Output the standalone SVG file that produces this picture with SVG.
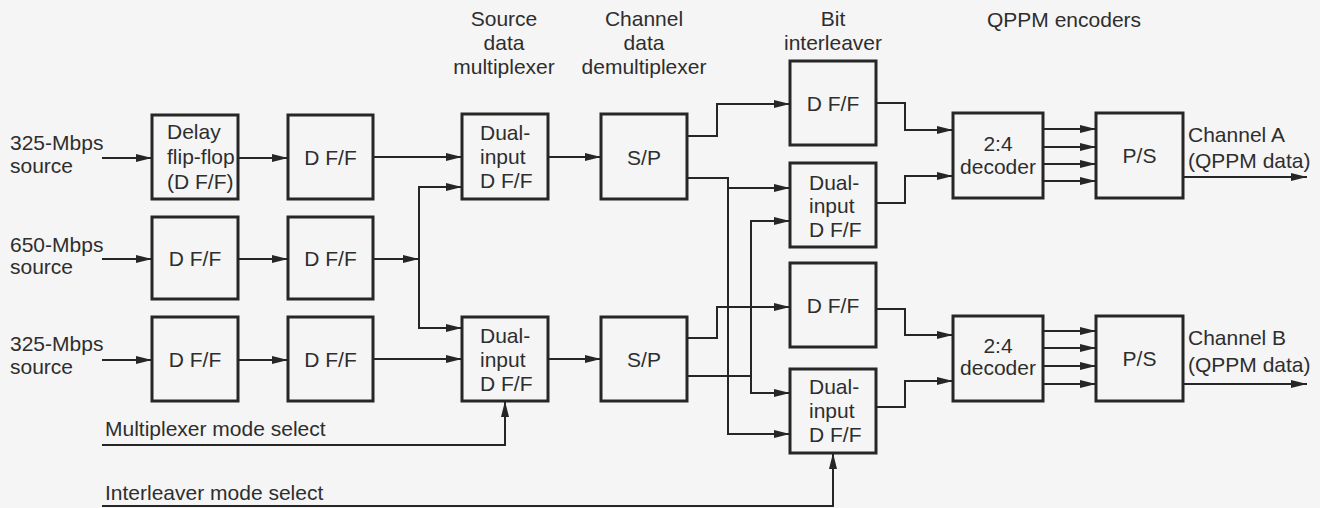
<svg xmlns="http://www.w3.org/2000/svg" width="1320" height="508" viewBox="0 0 1320 508">
<defs>
<marker id="ah" viewBox="0 0 16 8" refX="16" refY="4" markerWidth="16" markerHeight="8" markerUnits="userSpaceOnUse" orient="auto">
<path d="M0,0 L16,4 L0,8 z" fill="#262626"/>
</marker>
<style>
text{font-family:"Liberation Sans",Arial,sans-serif;font-size:21px;fill:#2e2e2e}
.c{text-anchor:middle}
rect{fill:none;stroke:#262626;stroke-width:3}
.w path{fill:none;stroke:#262626;stroke-width:2}
.a{marker-end:url(#ah)}
</style>
</defs>
<rect x="0" y="0" width="1320" height="508" style="fill:#f5f5f5;stroke:none"/>
<g id="labels">
<text x="10" y="150">325-Mbps</text><text x="10" y="173">source</text>
<text x="10" y="252">650-Mbps</text><text x="10" y="274">source</text>
<text x="10" y="351">325-Mbps</text><text x="10" y="374">source</text>
<text class="c" x="504" y="26">Source</text><text class="c" x="504" y="50">data</text><text class="c" x="504" y="74">multiplexer</text>
<text class="c" x="644" y="26">Channel</text><text class="c" x="644" y="50">data</text><text class="c" x="644" y="74">demultiplexer</text>
<text class="c" x="833" y="26">Bit</text><text class="c" x="833" y="50">interleaver</text>
<text x="987" y="27">QPPM encoders</text>
<text x="105" y="436">Multiplexer mode select</text>
<text x="105" y="500">Interleaver mode select</text>
<text x="1188" y="142">Channel A</text><text x="1188" y="168">(QPPM data)</text>
<text x="1188" y="345">Channel B</text><text x="1188" y="372">(QPPM data)</text>
</g>
<g id="delay"><rect x="152" y="115" width="86" height="84"/><text x="167" y="139">Delay</text><text x="167" y="164">flip-flop</text><text x="167" y="189">(D F/F)</text></g>
<g id="dff1b"><rect x="288" y="115" width="85" height="84"/><text class="c" x="330.5" y="165">D F/F</text></g>
<g id="dff2a"><rect x="152" y="217" width="86" height="82"/><text class="c" x="195" y="266">D F/F</text></g>
<g id="dff2b"><rect x="288" y="217" width="85" height="82"/><text class="c" x="330.5" y="266">D F/F</text></g>
<g id="dff3a"><rect x="152" y="317" width="86" height="84"/><text class="c" x="195" y="367">D F/F</text></g>
<g id="dff3b"><rect x="288" y="317" width="85" height="84"/><text class="c" x="330.5" y="367">D F/F</text></g>
<g id="mux1"><rect x="462" y="114" width="86" height="85"/><text x="480" y="140">Dual-</text><text x="480" y="164">input</text><text x="480" y="188">D F/F</text></g>
<g id="mux2"><rect x="462" y="317" width="86" height="84"/><text x="480" y="343">Dual-</text><text x="480" y="367">input</text><text x="480" y="391">D F/F</text></g>
<g id="sp1"><rect x="601" y="114" width="86" height="85"/><text class="c" x="644" y="165">S/P</text></g>
<g id="sp2"><rect x="601" y="317" width="86" height="84"/><text class="c" x="644" y="367">S/P</text></g>
<g id="il1"><rect x="790" y="61" width="86" height="84"/><text class="c" x="833" y="111">D F/F</text></g>
<g id="il2"><rect x="790" y="163" width="86" height="84"/><text x="809" y="190">Dual-</text><text x="809" y="213">input</text><text x="809" y="237">D F/F</text></g>
<g id="il3"><rect x="790" y="263" width="86" height="84"/><text class="c" x="833" y="313">D F/F</text></g>
<g id="il4"><rect x="790" y="369" width="86" height="84"/><text x="809" y="394">Dual-</text><text x="809" y="418">input</text><text x="809" y="442">D F/F</text></g>
<g id="dec1"><rect x="953" y="113" width="90" height="85"/><text class="c" x="998" y="151">2:4</text><text class="c" x="998" y="174">decoder</text></g>
<g id="dec2"><rect x="953" y="316" width="90" height="85"/><text class="c" x="998" y="353">2:4</text><text class="c" x="998" y="375">decoder</text></g>
<g id="ps1"><rect x="1096" y="113" width="87" height="85"/><text class="c" x="1139.5" y="163">P/S</text></g>
<g id="ps2"><rect x="1096" y="316" width="87" height="85"/><text class="c" x="1139.5" y="366">P/S</text></g>
<g id="connectors" class="w">
<path class="a" d="M102,158 H152"/>
<path class="a" d="M238,158 H288"/>
<path class="a" d="M373,157 H462"/>
<path class="a" d="M102,259 H152"/>
<path class="a" d="M238,259 H288"/>
<path class="a" d="M373,259 H419"/>
<path class="a" d="M419,259 V187 H462"/>
<path class="a" d="M419,259 V328 H462"/>
<path class="a" d="M102,360 H152"/>
<path class="a" d="M238,360 H288"/>
<path class="a" d="M373,359 H462"/>
<path class="a" d="M102,445 H505 V401"/>
<path class="a" d="M548,157 H601"/>
<path class="a" d="M548,359 H601"/>
<path class="a" d="M687,136 H717 V104 H790"/>
<path class="a" d="M687,178 H728 V434 H790"/>
<path class="a" d="M728,188 H790"/>
<path class="a" d="M687,338 H717 V307 H790"/>
<path class="a" d="M687,376 H751 V393 H790"/>
<path class="a" d="M751,376 V221 H790"/>
<path class="a" d="M102,506 H833 V453"/>
<path class="a" d="M876,103 H905 V130 H953"/>
<path class="a" d="M876,203 H905 V176 H953"/>
<path class="a" d="M876,309 H905 V335 H953"/>
<path class="a" d="M876,407 H905 V381 H953"/>
<path class="a" d="M1043,129 H1096"/>
<path class="a" d="M1043,147 H1096"/>
<path class="a" d="M1043,164 H1096"/>
<path class="a" d="M1043,181 H1096"/>
<path class="a" d="M1043,331 H1096"/>
<path class="a" d="M1043,348 H1096"/>
<path class="a" d="M1043,366 H1096"/>
<path class="a" d="M1043,384 H1096"/>
<path class="a" d="M1183,177 H1307"/>
<path class="a" d="M1183,384 H1307"/>
</g>
</svg>
